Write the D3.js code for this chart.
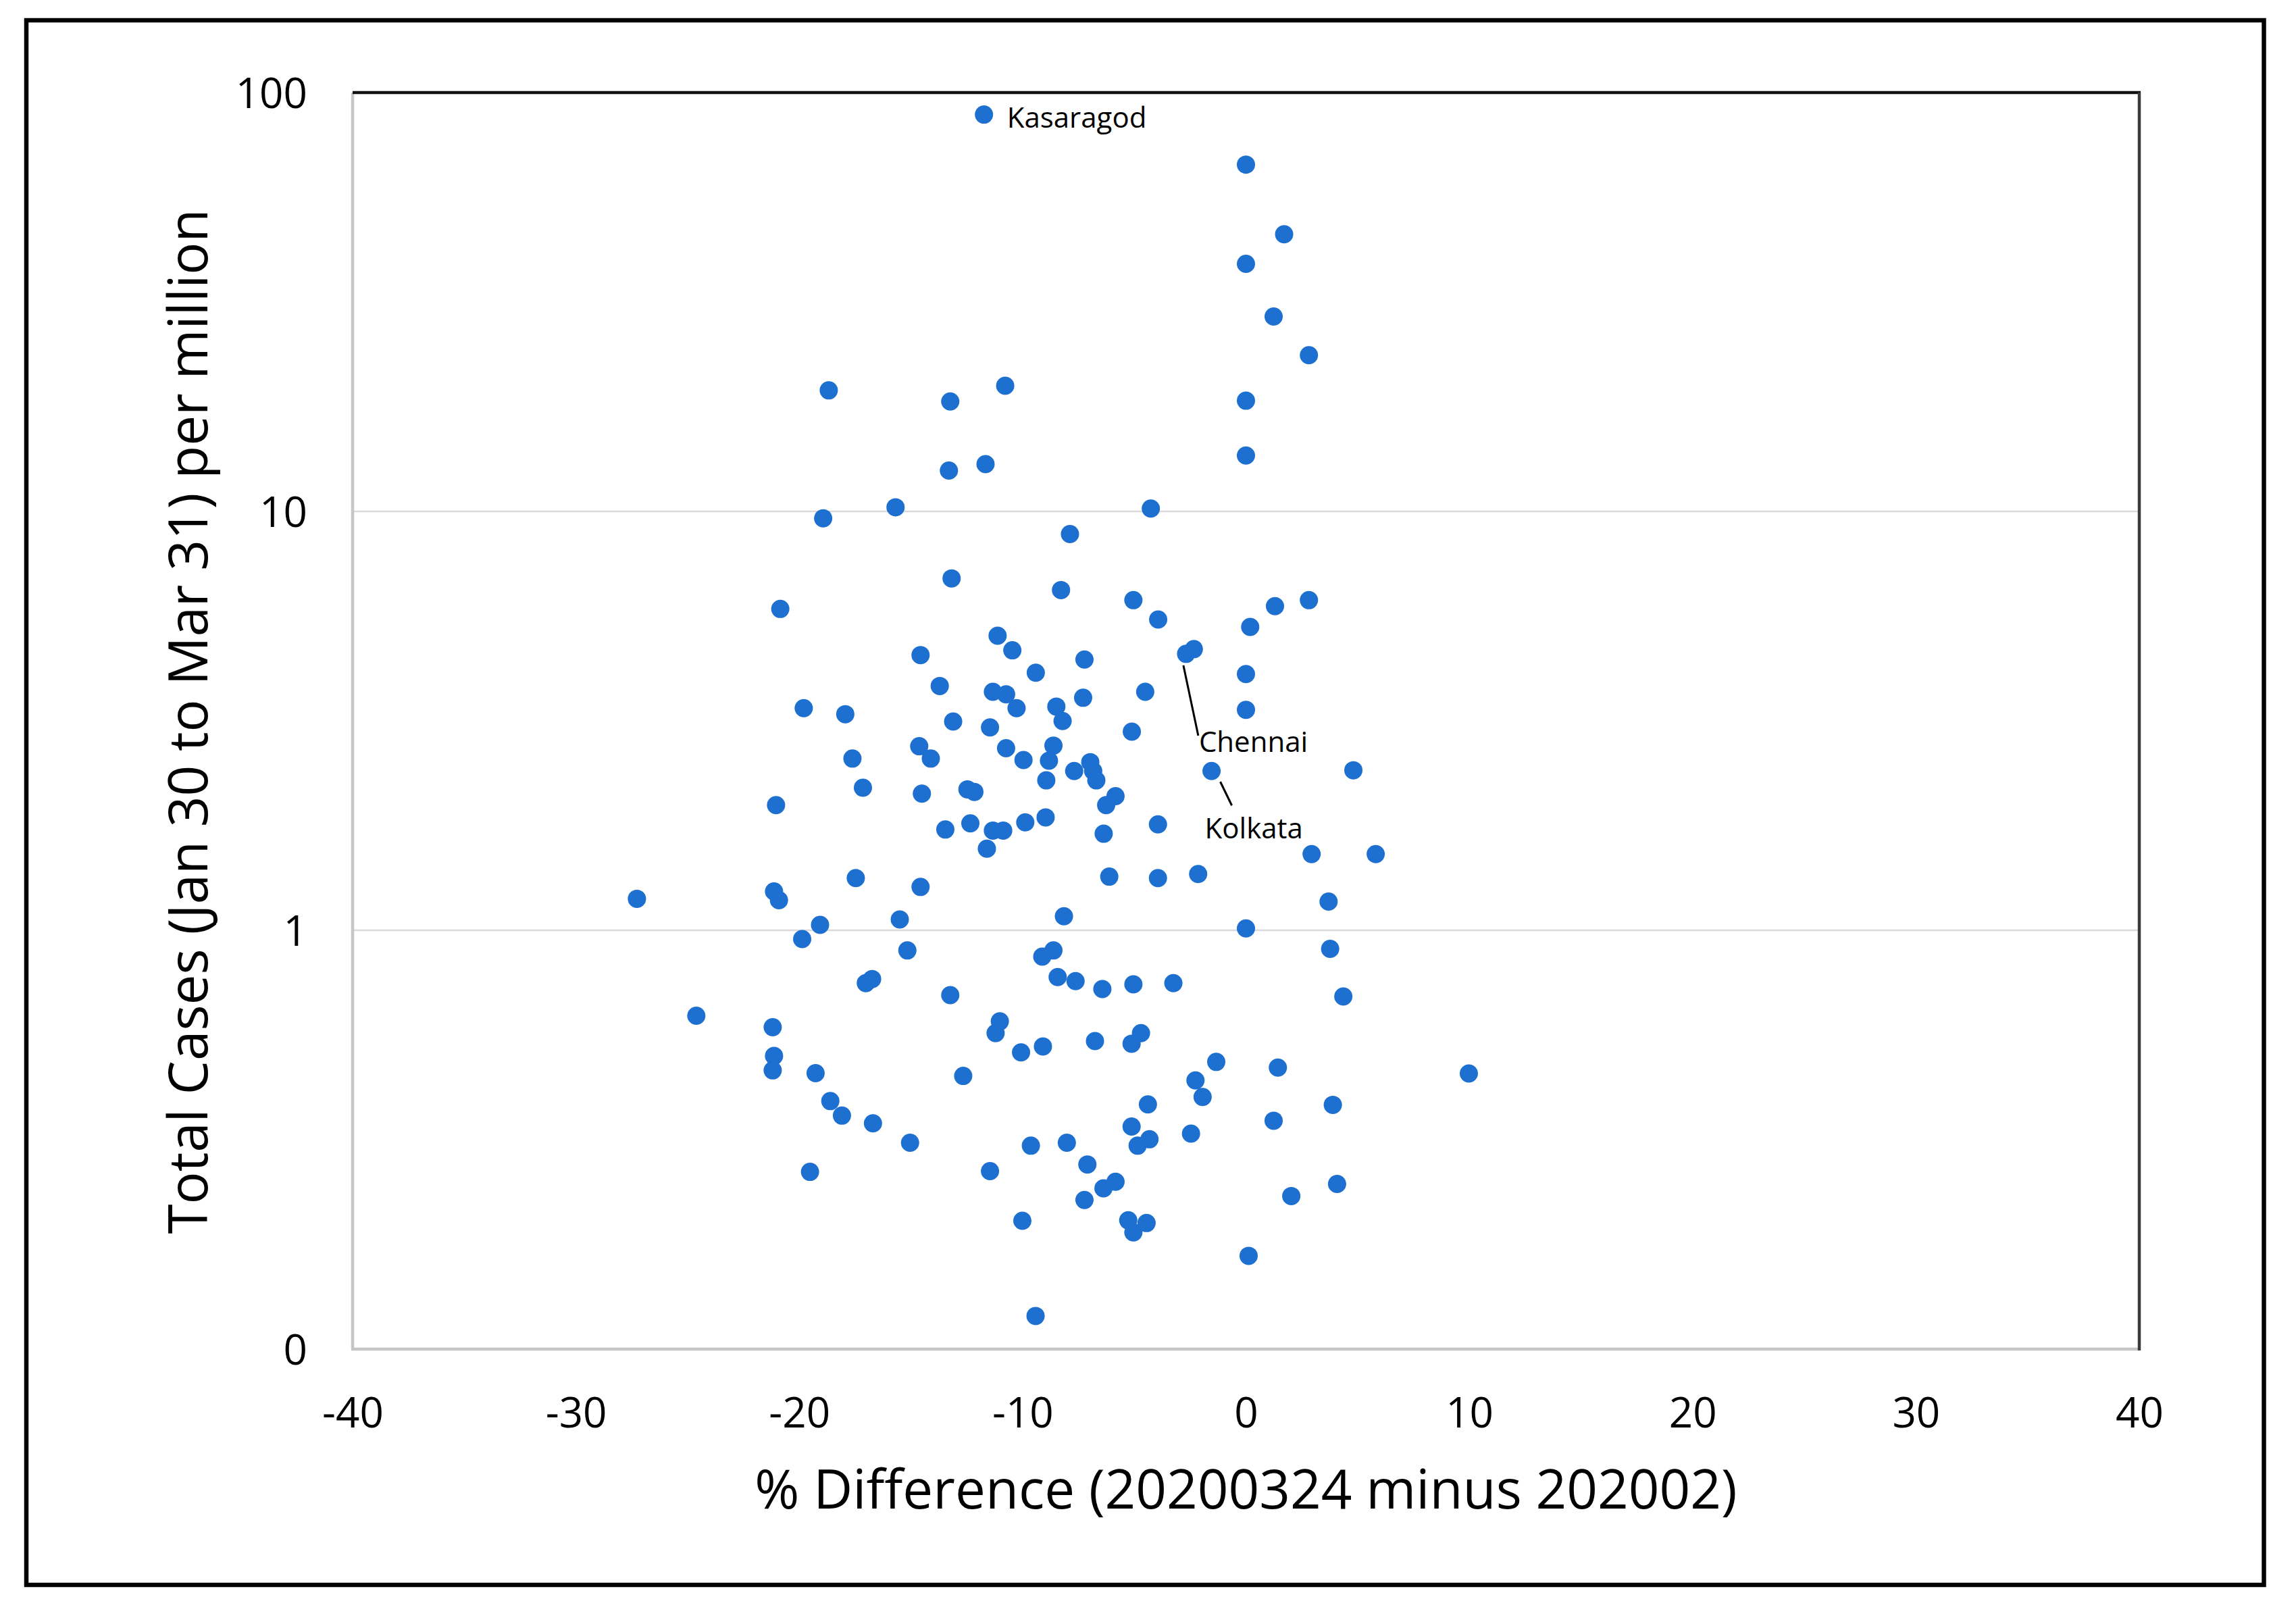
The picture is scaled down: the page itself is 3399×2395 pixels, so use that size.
<!DOCTYPE html>
<html>
<head>
<meta charset="utf-8">
<script src="https://cdn.jsdelivr.net/npm/d3@7"></script>
<style>
  html, body { margin: 0; padding: 0; background: #ffffff; }
  svg { display: block; }
  text { font-family: "Open Sans", "Noto Sans", sans-serif; fill: #000; }
</style>
</head>
<body>
<svg id="chart" width="3399" height="2395"></svg>
<script>
// ---------------- DATA ----------------
const pctDiff = [
  -11.73, -18.68, -13.24, -10.78, -13.30, -11.66, -15.69, -18.93,
  0.00, 1.71, 0.00, 1.24, 2.82, 0.00, 0.00, -4.26,
  -13.18, -20.85, -11.12, -10.46, -9.41, -14.57, -13.71, -11.33, -10.74, -10.27,
  -19.80, -17.94, -13.11, -11.46, -14.63, -14.11, -17.62, -10.74, -9.96, -17.15,
  -14.51, -12.47, -12.16, -21.04, -13.46, -12.34, -11.33, -10.87, -9.88, -11.60,
  -17.47, -14.57, -27.27, -21.13, -20.91, -15.50, -19.07,
  -7.88, -8.28, -5.04, -3.93, 1.30, 2.82, 0.19, -2.68, -2.33, -7.23, 0.00,
  -4.51, -7.29, -8.49, -8.21, 0.00, -5.11, -8.62, -8.82, -8.94, -7.69, -6.97,
  -6.84, -6.70, -1.54, 4.81, -5.84, -6.26, -3.94, -6.37, 2.94, 5.81, -6.12,
  -3.94, -2.14, 3.70, -8.15, 0.00, -8.97,
  -19.87, -15.16, -8.62, -9.12, -17.02, -16.74, -13.24, -24.61, -21.19, -11.02,
  -11.21, -10.07, -9.09, -21.13, -21.19, -19.27, -12.66, -18.61, -18.09, -16.70,
  -15.04, -9.63, -19.52, -11.46, -10.01, -9.42,
  3.77, -8.43, -7.63, -6.43, -5.04, -3.25, 4.36, -6.76, -4.70, -5.12, -1.33,
  1.43, 9.98, -2.26, -1.94, -4.39, 3.89, -5.12, 1.24, -2.46, -8.02, -4.32,
  -4.85, -7.10, -5.84, -6.38, -7.23, 4.08, 2.03, -5.27, -4.45, -5.04, 0.12
];
const casesPerMillion = [
  88.6, 19.45, 18.3, 19.95, 12.52, 12.97, 10.23, 9.63,
  67.3, 45.9, 39.0, 29.2, 23.6, 18.38, 13.6, 10.16,
  6.92, 5.85, 5.05, 4.66, 4.12, 4.54, 3.83, 3.71, 3.66, 3.39,
  3.39, 3.28, 3.15, 3.05, 2.75, 2.57, 2.57, 2.72, 2.55, 2.19,
  2.12, 2.17, 2.14, 1.99, 1.74, 1.80, 1.73, 1.73, 1.81, 1.566,
  1.332, 1.269, 1.189, 1.238, 1.18, 1.061, 1.03,
  8.83, 6.49, 6.14, 5.52, 5.94, 6.14, 5.30, 4.57, 4.69, 4.43, 4.09,
  3.71, 3.59, 3.42, 3.16, 3.36, 2.98, 2.76, 2.54, 2.28, 2.40, 2.52,
  2.40, 2.28, 2.40, 2.41, 2.09, 1.99, 1.79, 1.70, 1.52, 1.52, 1.343,
  1.332, 1.362, 1.171, 1.08, 1.01, 1.86,
  0.953, 0.895, 0.895, 0.865, 0.748, 0.765, 0.700, 0.625, 0.587, 0.606,
  0.568, 0.511, 0.528, 0.501, 0.463, 0.456, 0.449, 0.391, 0.361, 0.346,
  0.311, 0.306, 0.265, 0.266, 0.2025, 0.120,
  0.903, 0.773, 0.756, 0.724, 0.743, 0.748, 0.695, 0.544, 0.568, 0.536, 0.485,
  0.470, 0.455, 0.438, 0.400, 0.384, 0.383, 0.340, 0.351, 0.327, 0.311, 0.317,
  0.306, 0.276, 0.251, 0.242, 0.227, 0.248, 0.232, 0.203, 0.200, 0.190, 0.167
];
const annotationNames = ["Kasaragod", "Chennai", "Kolkata"];
const annotationIndex = [0, 60, 77];

const xTicks = [-40, -30, -20, -10, 0, 10, 20, 30, 40];
const xTickLabels = ["-40", "-30", "-20", "-10", "0", "10", "20", "30", "40"];
const yTicks = [0.1, 1, 10, 100];
const yTickLabels = ["0", "1", "10", "100"];
const yGridValues = [1, 10];

const xTitle = "% Difference (20200324 minus 202002)";
const yTitle = "Total Cases (Jan 30 to Mar 31) per million";

// ---------------- LAYOUT ----------------
const W = 3399, H = 2395;
const plot = { left: 522, right: 3167, top: 137, bottom: 1997 };
const dotColor = "#1d6fd0";
const dotR = 13.5;
// label placement relative to each annotated point (pixels)
const labelLayout = [
  { dx: 34, dy: 19, line: null },
  { dx: 19, dy: 145, line: [-4, 17, 18, 121] },
  { dx: -10, dy: 100, line: [13, 16, 30, 51] }
];

const svg = d3.select("#chart");
svg.append("rect").attr("x", 0).attr("y", 0).attr("width", W).attr("height", H).attr("fill", "#fff");

// outer frame
svg.append("rect")
  .attr("x", 39).attr("y", 30)
  .attr("width", 3351.5 - 39).attr("height", 2346 - 30)
  .attr("fill", "none").attr("stroke", "#000").attr("stroke-width", 6.5);

const x = d3.scaleLinear().domain([-40, 40]).range([plot.left, plot.right]);
const y = d3.scaleLog().domain([0.1, 100]).range([plot.bottom, plot.top]);

// gridlines
svg.append("g").selectAll("line").data(yGridValues).join("line")
  .attr("x1", plot.left).attr("x2", plot.right)
  .attr("y1", d => y(d)).attr("y2", d => y(d))
  .attr("stroke", "#d9d9d9").attr("stroke-width", 2.5);

// axis frame lines
svg.append("line").attr("x1", plot.left).attr("x2", plot.left)
  .attr("y1", plot.top).attr("y2", plot.bottom)
  .attr("stroke", "#c6c6c6").attr("stroke-width", 4.5);
svg.append("line").attr("x1", plot.left - 2).attr("x2", plot.right)
  .attr("y1", plot.bottom).attr("y2", plot.bottom)
  .attr("stroke", "#c6c6c6").attr("stroke-width", 4.5);
svg.append("line").attr("x1", plot.left).attr("x2", plot.right + 2)
  .attr("y1", plot.top).attr("y2", plot.top)
  .attr("stroke", "#111", ).attr("stroke-width", 4.5);
svg.append("line").attr("x1", plot.right).attr("x2", plot.right)
  .attr("y1", plot.top).attr("y2", plot.bottom + 2)
  .attr("stroke", "#3a3a3a").attr("stroke-width", 4.5);

// x axis (labels only)
const xAxis = d3.axisBottom(x).tickValues(xTicks)
  .tickFormat((d, i) => xTickLabels[i]).tickSize(0).tickPadding(72);
const gx = svg.append("g").attr("transform", `translate(0,${plot.bottom})`).call(xAxis);
gx.select(".domain").remove();
gx.selectAll("text").attr("font-size", 62).attr("font-family", "'Open Sans', sans-serif").attr("fill", "#000");

// y axis (labels only)
const yAxis = d3.axisLeft(y).tickValues(yTicks)
  .tickFormat((d, i) => yTickLabels[i]).tickSize(0).tickPadding(67);
const gy = svg.append("g").attr("transform", `translate(${plot.left},0)`).call(yAxis);
gy.select(".domain").remove();
gy.selectAll("text").attr("font-size", 62).attr("dy", "0.36em")
  .attr("font-family", "'Open Sans', sans-serif").attr("fill", "#000");

// axis titles
svg.append("text")
  .attr("x", (plot.left + plot.right) / 2).attr("y", 2233)
  .attr("text-anchor", "middle").attr("font-size", 80)
  .text(xTitle);
svg.append("text")
  .attr("transform", `translate(307,${(plot.top + plot.bottom) / 2 + 1}) rotate(-90)`)
  .attr("text-anchor", "middle").attr("font-size", 80)
  .text(yTitle);

// points
const pts = pctDiff.map((v, i) => ({ x: v, y: casesPerMillion[i] }));
svg.append("g").selectAll("circle").data(pts).join("circle")
  .attr("cx", d => x(d.x)).attr("cy", d => y(d.y))
  .attr("r", dotR).attr("fill", dotColor);

// annotations
const ann = svg.append("g");
annotationNames.forEach((name, k) => {
  const p = pts[annotationIndex[k]];
  const px = x(p.x), py = y(p.y);
  const L = labelLayout[k];
  if (L.line) {
    ann.append("line")
      .attr("x1", px + L.line[0]).attr("y1", py + L.line[1])
      .attr("x2", px + L.line[2]).attr("y2", py + L.line[3])
      .attr("stroke", "#000").attr("stroke-width", 3);
  }
  ann.append("text")
    .attr("x", px + L.dx).attr("y", py + L.dy)
    .attr("font-size", 42).text(name);
});
</script>
</body>
</html>
